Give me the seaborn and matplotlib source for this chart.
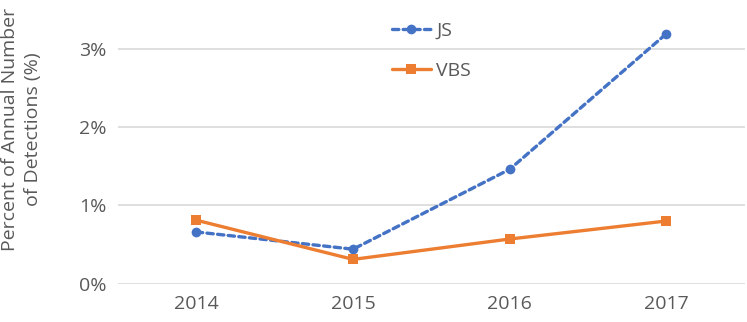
import pandas as pd
import numpy as np
import matplotlib.pyplot as plt
import seaborn as sns
from matplotlib.ticker import PercentFormatter

# Values (percent)
years = ['2014', '2015', '2016', '2017']
js_pct = [0.66, 0.44, 1.46, 3.19]
vbs_pct = [0.81, 0.31, 0.57, 0.80]

data = pd.DataFrame({
    'Year': years * 2,
    'Percent': js_pct + vbs_pct,
    'Type': ['JS'] * 4 + ['VBS'] * 4,
})

sns.set_theme(style='white')
plt.rcParams['font.family'] = ['Open Sans', 'DejaVu Sans']
text_col = '#595959'

fig = plt.figure(figsize=(7.47, 3.22), dpi=100)
ax = fig.add_axes([0.158, 0.119, 0.839, 0.881])

sns.lineplot(data=data, x='Year', y='Percent', hue='Type', style='Type',
             palette={'JS': '#4472C4', 'VBS': '#ED7D31'},
             markers={'JS': 'o', 'VBS': 's'},
             dashes={'JS': (1.9, 1.3), 'VBS': ''},
             linewidth=2.4, markersize=7, markeredgewidth=0, ax=ax)
for ln in ax.lines:
    ln.set_dash_capstyle('round')

ax.set_xlim(-0.5, 3.5)
ax.set_ylim(0, 3.62)
ax.set_yticks([0, 1, 2, 3])
ax.yaxis.set_major_formatter(PercentFormatter(decimals=0))
ax.grid(axis='y', color='#D9D9D9', linewidth=1.2)
ax.set_axisbelow(True)
for s in ['top', 'right', 'left', 'bottom']:
    ax.spines[s].set_visible(False)
ax.tick_params(axis='both', length=0, labelsize=14, colors=text_col, pad=8)
ax.set_xlabel('')
ax.set_ylabel('Percent of Annual Number\nof Detections (%)', fontsize=14,
              color=text_col, linespacing=1.3, multialignment='center')
ax.yaxis.set_label_coords(-0.122, 0.545)

leg = ax.legend(loc='upper center', bbox_to_anchor=(0.5, 0.985), frameon=False,
                fontsize=14, labelspacing=1.15, handlelength=2.0, handletextpad=0.3)
for t in leg.get_texts():
    t.set_color(text_col)
for h in leg.get_lines():
    h.set_dash_capstyle('round')

fig.savefig('out.png', dpi=100)
